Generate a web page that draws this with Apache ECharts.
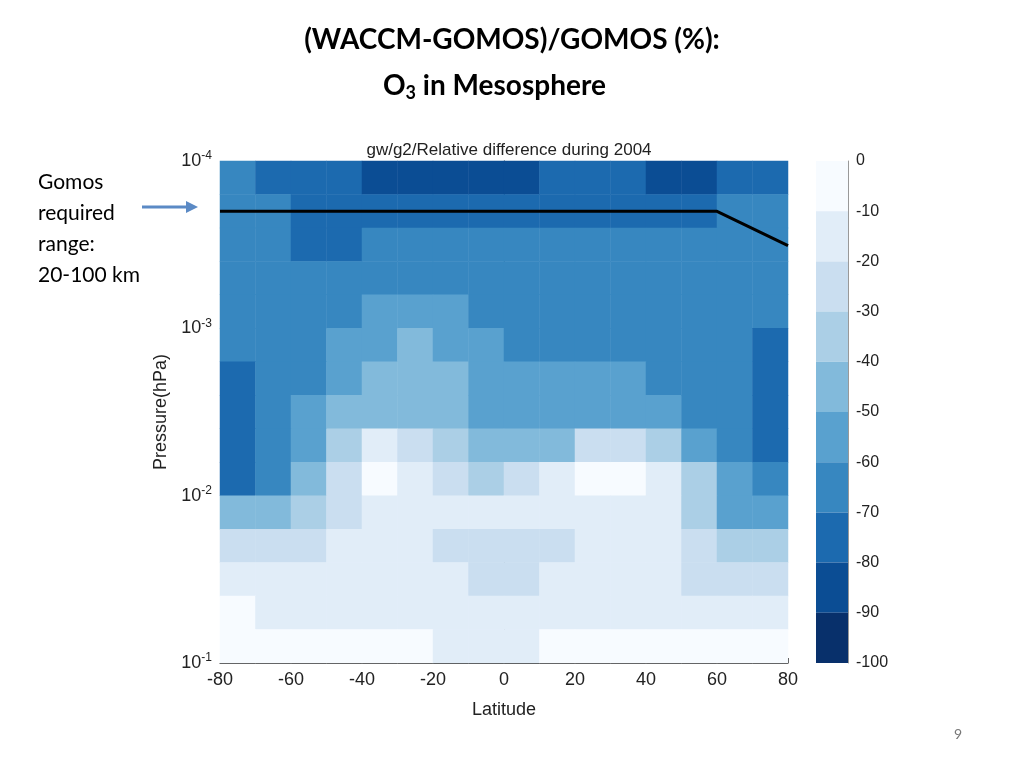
<!DOCTYPE html>
<html><head><meta charset="utf-8">
<script src="https://cdn.jsdelivr.net/npm/echarts@6/dist/echarts.min.js"></script>
<style>html,body{margin:0;background:#fff}#c{width:1024px;height:768px}</style>
</head><body><div id="c"></div>
<script>
const latCenters = [-75,-65,-55,-45,-35,-25,-15,-5,5,15,25,35,45,55,65,75];
const logPCenters = [-3.9,-3.7,-3.5,-3.3,-3.1,-2.9,-2.7,-2.5,-2.3,-2.1,-1.9,-1.7,-1.5,-1.3,-1.1];
const rows = [
 [-65,-70,-72,-75,-82,-82,-82,-80,-80,-78,-72,-78,-82,-82,-78,-72],
 [-62,-68,-72,-74,-72,-72,-73,-74,-73,-72,-70,-72,-74,-73,-68,-65],
 [-60,-66,-70,-70,-68,-66,-65,-66,-66,-66,-65,-65,-66,-67,-65,-68],
 [-62,-63,-64,-64,-63,-62,-62,-62,-61,-60,-60,-61,-62,-63,-64,-66],
 [-65,-62,-62,-60,-58,-55,-58,-61,-60,-60,-60,-60,-61,-62,-64,-66],
 [-68,-63,-62,-55,-50,-48,-52,-58,-60,-60,-60,-61,-62,-63,-66,-70],
 [-70,-66,-60,-52,-47,-46,-48,-55,-58,-58,-58,-58,-60,-63,-67,-70],
 [-72,-67,-58,-45,-40,-42,-46,-52,-55,-55,-53,-52,-55,-60,-66,-72],
 [-73,-66,-55,-35,-18,-20,-30,-42,-45,-40,-28,-25,-30,-50,-63,-72],
 [-72,-62,-45,-20,-5,-12,-25,-30,-28,-18,-8,-3,-15,-35,-58,-68],
 [-45,-40,-30,-22,-15,-17,-18,-18,-18,-14,-12,-10,-18,-38,-50,-55],
 [-25,-25,-20,-18,-17,-17,-20,-22,-22,-22,-16,-16,-18,-25,-32,-38],
 [-12,-14,-15,-16,-17,-18,-18,-20,-21,-19,-16,-15,-16,-20,-24,-28],
 [-8,-10,-11,-12,-13,-14,-15,-15,-14,-13,-12,-12,-12,-13,-13,-12],
 [-3,-5,-7,-8,-9,-9,-10,-11,-10,-9,-9,-8,-8,-6,-4,-3]
];
const lineLat = [-80, 60, 80];
const linePres = [2e-4, 2e-4, 3.2e-4];
const colorbarTicks = [-100,-90,-80,-70,-60,-50,-40,-30,-20,-10,0];
const colors = ['#f7fbff','#e1edf8','#cadef0','#abcfe6','#82badb','#59a1cf','#3787c0','#1c6aaf','#0b4d94','#08306b'];

const heat = [];
rows.forEach((r, j) => r.forEach((v, i) => heat.push([i, j, v])));
const pieces = colors.map((c, k) => ({gt: -(k+1)*10, lte: -k*10, color: c}));
pieces[colors.length-1].gte = -100; delete pieces[colors.length-1].gt;

const G = {left:220, top:161, width:568, height:502};
const F = 'Liberation Sans';
const sup = v => '{b|10}{s|' + Math.round(Math.log10(v)) + '}';
const barSeries = colors.map((c) => ({type:'bar', stack:'cb', xAxisIndex:2, yAxisIndex:2, data:[-10], barWidth:'100%', itemStyle:{color:c}, silent:true}));

const chart = echarts.init(document.getElementById('c'));
chart.setOption({
 animation:false,
 textStyle:{fontFamily:F},
 title:{text:'gw/g2/Relative difference during 2004', left:504, top:137, textAlign:'center', textStyle:{fontSize:17, fontWeight:'normal', color:'#222', fontFamily:F}},
 grid:[G, G, {left:816, top:161, width:32, height:502}],
 visualMap:{type:'piecewise', show:false, seriesIndex:0, pieces:pieces},
 xAxis:[
  {type:'category', gridIndex:0, data:latCenters, show:false},
  {type:'value', gridIndex:1, min:-80, max:80, interval:20, name:'Latitude', nameLocation:'middle', nameGap:38,
   nameTextStyle:{fontSize:18, color:'#222'}, axisLabel:{fontSize:18, color:'#222'}, axisLine:{lineStyle:{color:'#333'}},
   axisTick:{inside:true, lineStyle:{color:'#333'}}, splitLine:{show:false}},
  {type:'category', gridIndex:2, data:['c'], show:false}
 ],
 yAxis:[
  {type:'category', gridIndex:0, data:logPCenters, inverse:true, show:false},
  {type:'log', gridIndex:1, min:1e-4, max:1e-1, inverse:true, name:'Pressure(hPa)', nameLocation:'middle', nameGap:48,
   nameTextStyle:{fontSize:18, color:'#222'}, axisLine:{lineStyle:{color:'#333'}}, axisTick:{inside:true}, splitLine:{show:false},
   axisLabel:{formatter:sup, rich:{b:{fontSize:18, color:'#222'}, s:{fontSize:12, color:'#222', verticalAlign:'top', padding:[0,0,10,0]}}}},
  {type:'value', gridIndex:2, min:-100, max:0, interval:10, position:'right', axisLine:{show:true, lineStyle:{color:'#999'}},
   axisTick:{inside:true}, splitLine:{show:false}, axisLabel:{fontSize:16, color:'#222'}}
 ],
 series:[
  {type:'heatmap', xAxisIndex:0, yAxisIndex:0, data:heat, silent:true},
  {type:'line', xAxisIndex:1, yAxisIndex:1, data:lineLat.map((x,i)=>[x, linePres[i]]), symbol:'none', lineStyle:{color:'#000', width:3}, silent:true}
 ].concat(barSeries),
 graphic:[
  {type:'text', left:'center', top:26, style:{text:'(WACCM-GOMOS)/GOMOS (%):', font:'bold 28px Lato', fill:'#000'}},
  {type:'text', x:383, y:70, style:{text:'{a|O}{s|3}{a| in Mesosphere}', rich:{a:{font:'bold 28px Lato', fill:'#000'}, s:{font:'bold 18px Lato', fill:'#000', padding:[14,0,0,0]}}}},
  {type:'text', x:38, y:167, style:{text:'Gomos\nrequired\nrange:\n20-100 km', font:'21px Lato', lineHeight:31, fill:'#000'}},
  {type:'line', shape:{x1:142, y1:207, x2:190, y2:207}, style:{stroke:'#5b8ac5', lineWidth:3}},
  {type:'polygon', shape:{points:[[198,207],[186,201],[186,213]]}, style:{fill:'#5b8ac5'}},
  {type:'text', x:954, y:727, style:{text:'9', font:'14px Lato', fill:'#777'}}
 ]
});
</script></body></html>
